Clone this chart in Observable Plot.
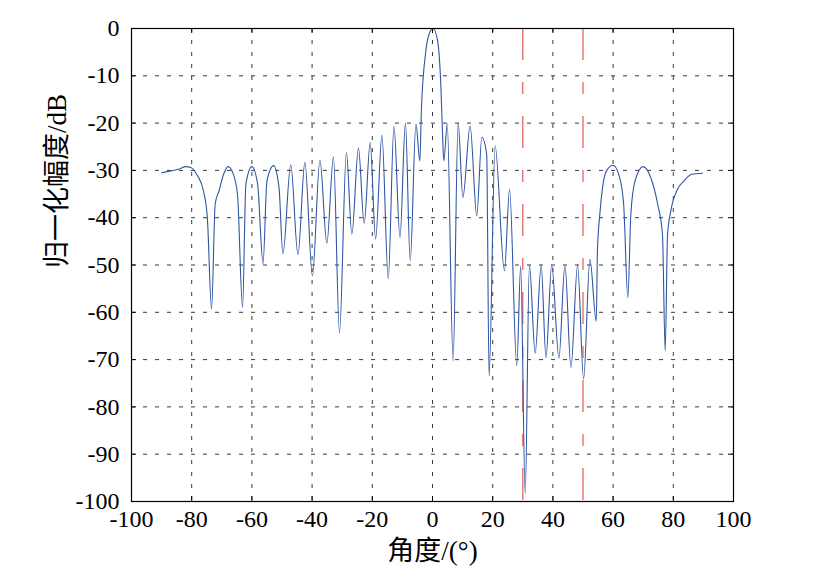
<!DOCTYPE html>
<html>
<head>
<meta charset="utf-8">
<script src="https://cdn.jsdelivr.net/npm/d3@7"></script>
<script src="https://cdn.jsdelivr.net/npm/@observablehq/plot@0.6"></script>
<style>
  html, body { margin: 0; padding: 0; background: #fff; }
  #chart svg, #chart svg text, #chart svg g { font-family: "Liberation Serif", "Times New Roman", "DejaVu Serif", "Noto Sans CJK SC", serif !important; }
</style>
</head>
<body>
<div id="chart"></div>
<script>
// Pattern
const angles = [
  -90.0, -86.9, -84.2, -82.0, -80.3, -78.1, -76.1, -74.8, -73.4, -72.2,
  -70.9, -69.4, -67.9, -66.4, -64.8, -63.1, -62.0, -60.0, -58.1, -56.3,
  -55.0, -52.8, -51.0, -49.7, -47.1, -44.7, -42.4, -39.9, -37.4, -35.1,
  -32.9, -30.9, -28.6, -26.8, -24.6, -22.7, -20.7, -18.9, -16.8, -14.7,
  -12.8, -10.8, -9.0, -7.4, -5.5, -4.2, -3.7, -2.2, -0.9, 0.2,
  1.7, 2.8, 3.3, 3.75, 4.9, 6.85, 8.5, 10.1, 12.5, 14.7,
  16.4, 18.0, 18.8, 20.8, 23.9, 25.6, 28.0, 29.3, 30.8, 32.2,
  34.1, 36.1, 37.7, 39.6, 42.0, 44.0, 46.0, 48.2, 50.2, 52.3,
  54.4, 54.8, 55.6, 56.5, 57.8, 60.0, 62.0, 63.5, 64.9, 65.9,
  67.3, 70.0, 72.5, 74.8, 76.4, 77.3, 78.1, 79.2, 81.4, 83.6,
  86.1, 89.7
];
const gains = [
  -30.5, -30.1, -29.7, -29.2, -29.4, -31.1, -34.3, -40.0, -59.3, -37.1,
  -34.3, -30.8, -29.2, -30.4, -35.0, -59.0, -32.9, -29.2, -32.9, -49.7,
  -32.2, -29.0, -33.6, -47.6, -28.8, -47.8, -28.3, -52.3, -27.8, -45.4,
  -27.1, -64.3, -26.2, -43.5, -25.3, -41.2, -24.1, -44.5, -22.5, -52.9,
  -20.6, -44.2, -20.0, -49.1, -20.2, -28.0, -17.4, -4.7, -0.8, 0.0,
  -2.6, -12.5, -21.6, -28.0, -20.2, -70.3, -20.0, -35.7, -20.6, -39.6,
  -23.0, -26.6, -73.4, -24.8, -51.2, -34.0, -71.3, -50.2, -98.4, -50.0,
  -68.7, -50.0, -69.6, -50.0, -69.7, -50.0, -71.7, -50.0, -74.1, -48.8,
  -61.9, -47.0, -39.2, -33.6, -30.1, -28.9, -31.1, -37.1, -56.9, -39.2,
  -32.2, -29.2, -31.5, -37.1, -43.5, -68.1, -43.5, -38.5, -34.0, -32.2,
  -30.8, -30.6
];
const markerAngles = [30, 50];
const xTicks = [-100, -80, -60, -40, -20, 0, 20, 40, 60, 80, 100];
const yTicks = [0, -10, -20, -30, -40, -50, -60, -70, -80, -90, -100];
const xLabel = "角度/(°)";
const yLabel = "归一化幅度/dB";

const data = angles.map((a, i) => ({angle: a, gain: gains[i]}));

const W = 816, H = 588;
const mL = 131, mR = 83, mT = 28, mB = 87;
const plotW = W - mL - mR, plotH = H - mT - mB;

const chart = Plot.plot({
  width: W,
  height: H,
  marginLeft: mL,
  marginRight: mR,
  marginTop: mT,
  marginBottom: mB,
  style: "font-size: 24px; color: black; background: white; overflow: visible;",
  x: {domain: [-100, 100]},
  y: {domain: [-100, 0]},
  marks: [
    Plot.gridX(xTicks, {stroke: "#222", strokeOpacity: 1, strokeWidth: 0.9, strokeDasharray: "4,8"}),
    Plot.gridY(yTicks, {stroke: "#222", strokeOpacity: 1, strokeWidth: 0.9, strokeDasharray: "4,8"}),
    Plot.ruleX(markerAngles, {x: d => d, stroke: "#de4b4b", strokeWidth: 1.1, strokeDasharray: "32,22,12,22"}),
    Plot.line(data, {x: "angle", y: "gain", stroke: "#2f56a3", strokeWidth: 1.1, curve: "monotone-x"}),
    Plot.tickX(xTicks, {x: d => d, stroke: "black", insetTop: plotH - 5}),
    Plot.tickX(xTicks, {x: d => d, stroke: "black", insetBottom: plotH - 5}),
    Plot.tickY(yTicks, {y: d => d, stroke: "black", insetRight: plotW - 5}),
    Plot.tickY(yTicks, {y: d => d, stroke: "black", insetLeft: plotW - 5}),
    Plot.frame({stroke: "black", strokeWidth: 1.2}),
    Plot.axisX(xTicks, {tickSize: 0, tickPadding: 8, tickFormat: d => String(d), fontSize: 24, label: null}),
    Plot.axisY(yTicks, {tickSize: 0, tickPadding: 12, tickFormat: d => String(d), fontSize: 24, label: null}),
    Plot.text([xLabel], {frameAnchor: "bottom", dy: 50, fontSize: 27, lineAnchor: "middle", fill: "black"}),
    Plot.text([yLabel], {frameAnchor: "left", dx: -74, dy: 3, rotate: -90, fontSize: 27, fill: "black"})
  ]
});
document.getElementById("chart").appendChild(chart);
</script>
</body>
</html>
